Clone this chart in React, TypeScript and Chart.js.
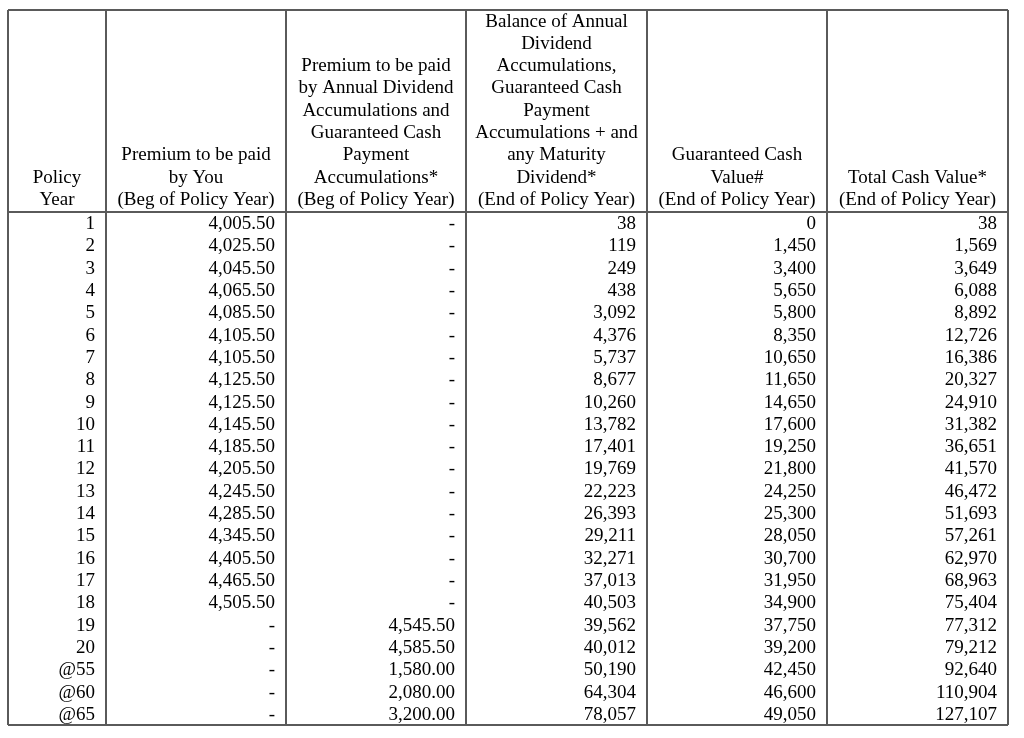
import React, { useEffect, useRef } from "react";
import { Chart, registerables } from "chart.js";

Chart.register(...registerables);

const rowLabels = ["1","2","3","4","5","6","7","8","9","10","11","12","13","14","15","16","17","18","19","20","@55","@60","@65"];

const premiumYou: (number | null)[] = [4005.5, 4025.5, 4045.5, 4065.5, 4085.5, 4105.5, 4105.5, 4125.5, 4125.5, 4145.5, 4185.5, 4205.5, 4245.5, 4285.5, 4345.5, 4405.5, 4465.5, 4505.5, null, null, null, null, null];
const premiumDividend: (number | null)[] = [null, null, null, null, null, null, null, null, null, null, null, null, null, null, null, null, null, null, 4545.5, 4585.5, 1580.0, 2080.0, 3200.0];
const dividendBalance: number[] = [38, 119, 249, 438, 3092, 4376, 5737, 8677, 10260, 13782, 17401, 19769, 22223, 26393, 29211, 32271, 37013, 40503, 39562, 40012, 50190, 64304, 78057];
const guaranteedCashValue: number[] = [0, 1450, 3400, 5650, 5800, 8350, 10650, 11650, 14650, 17600, 19250, 21800, 24250, 25300, 28050, 30700, 31950, 34900, 37750, 39200, 42450, 46600, 49050];
const totalCashValue: number[] = [38, 1569, 3649, 6088, 8892, 12726, 16386, 20327, 24910, 31382, 36651, 41570, 46472, 51693, 57261, 62970, 68963, 75404, 77312, 79212, 92640, 110904, 127107];

const headers: string[][] = [
  ["Policy", "Year"],
  ["Premium to be paid", "by You", "(Beg of Policy Year)"],
  ["Premium to be paid", "by Annual Dividend", "Accumulations and", "Guaranteed Cash", "Payment", "Accumulations*", "(Beg of Policy Year)"],
  ["Balance of Annual", "Dividend", "Accumulations,", "Guaranteed Cash", "Payment", "Accumulations + and", "any Maturity", "Dividend*", "(End of Policy Year)"],
  ["Guaranteed Cash", "Value#", "(End of Policy Year)"],
  ["Total Cash Value*", "(End of Policy Year)"],
];

// layout (table units on the hidden x scale)
const colEdges = [0, 98, 278, 458, 639, 819, 1000];

const fmt2 = (v: number | null) =>
  v === null ? "-" : v.toLocaleString("en-US", { minimumFractionDigits: 2, maximumFractionDigits: 2 });
const fmt0 = (v: number | null) => (v === null ? "-" : v.toLocaleString("en-US"));

const FONT = '19px "Liberation Serif", "Times New Roman", serif';
const LINE = "#5a5a5a";

const tablePlugin = {
  id: "tablePlugin",
  afterDraw(chart: any) {
    const ctx = chart.ctx as CanvasRenderingContext2D;
    const x = chart.scales.x;
    const y = chart.scales.y;
    const area = chart.chartArea;
    const rowH = y.getPixelForValue(1) - y.getPixelForValue(0);
    const top = 10;
    const edges = colEdges.map((e) => x.getPixelForValue(e));

    ctx.save();
    // grid
    ctx.strokeStyle = LINE;
    ctx.lineWidth = 2;
    ctx.beginPath();
    ctx.moveTo(edges[0], top);
    ctx.lineTo(edges[edges.length - 1], top);
    ctx.moveTo(edges[0], area.top);
    ctx.lineTo(edges[edges.length - 1], area.top);
    ctx.moveTo(edges[0], area.bottom);
    ctx.lineTo(edges[edges.length - 1], area.bottom);
    edges.forEach((ex) => {
      ctx.moveTo(ex, top);
      ctx.lineTo(ex, area.bottom);
    });
    ctx.stroke();

    ctx.fillStyle = "#000";
    ctx.font = FONT;
    ctx.textBaseline = "middle";

    // headers
    ctx.textAlign = "center";
    headers.forEach((lines, c) => {
      const cx = (edges[c] + edges[c + 1]) / 2;
      const lastY = area.top - 12;
      lines.forEach((ln, i) => {
        ctx.fillText(ln, cx, lastY - (lines.length - 1 - i) * rowH);
      });
    });

    // body
    ctx.textAlign = "right";
    const cols: string[][] = [
      rowLabels,
      premiumYou.map(fmt2),
      premiumDividend.map(fmt2),
      dividendBalance.map(fmt0),
      guaranteedCashValue.map(fmt0),
      totalCashValue.map(fmt0),
    ];
    rowLabels.forEach((_, r) => {
      const cy = y.getPixelForValue(r) + 1;
      cols.forEach((col, c) => {
        ctx.fillText(col[r], edges[c + 1] - 11, cy);
      });
    });
    ctx.restore();
  },
};

export default function App() {
  const ref = useRef<HTMLCanvasElement>(null);
  useEffect(() => {
    document.body.style.margin = "0";
    const chart = new Chart(ref.current!, {
      type: "scatter",
      data: { labels: rowLabels, datasets: [] },
      options: {
        animation: false,
        responsive: false,
        maintainAspectRatio: false,
        layout: { padding: { top: 212, bottom: 13, left: 8, right: 16 } },
        plugins: { legend: { display: false }, tooltip: { enabled: false } },
        scales: {
          x: { type: "linear", min: 0, max: 1000, display: false },
          y: { type: "category", labels: rowLabels, offset: true, display: false, grid: { offset: true } },
        },
      },
      plugins: [tablePlugin],
    });
    return () => chart.destroy();
  }, []);
  return (
    <div style={{ background: "#fff", width: 1024, height: 738 }}>
      <canvas ref={ref} width={1024} height={738} style={{ display: "block" }} />
    </div>
  );
}
